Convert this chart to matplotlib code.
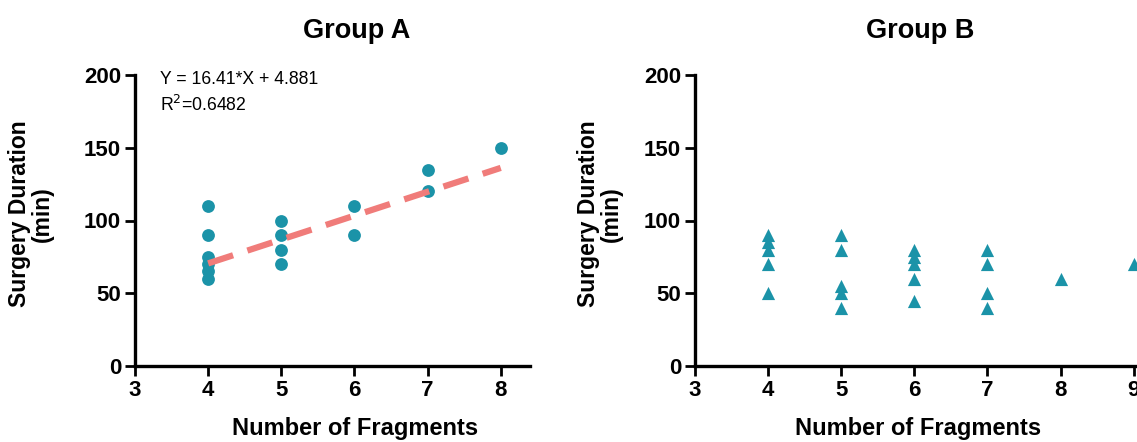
import numpy as np
import matplotlib
matplotlib.use("Agg")
import matplotlib.pyplot as plt

plt.rcParams['font.family'] = ['Liberation Sans', 'DejaVu Sans']

# Group A: fragments vs surgery duration
a_x = [4, 4, 4, 4, 4, 4, 5, 5, 5, 5, 6, 6, 7, 7, 8]
a_y = [110, 90, 75, 70, 65, 60, 100, 90, 80, 70, 110, 90, 135, 120, 150]
fit_slope = 16.41
fit_icept = 4.881
fit_r2 = 0.6482

# Group B
b_x = [4, 4, 4, 4, 4, 5, 5, 5, 5, 5, 6, 6, 6, 6, 6, 7, 7, 7, 7, 8, 9]
b_y = [90, 85, 80, 70, 50, 90, 80, 55, 50, 40, 80, 75, 70, 60, 45, 80, 70, 50, 40, 60, 70]

teal = '#1b93a8'
salmon = '#f07c7a'

fig = plt.figure(figsize=(11.37, 4.42), dpi=100)
W, H = 1137, 442

def style_axes(ax, xmax, xticks):
    ax.set_xlim(3, xmax)
    ax.set_ylim(0, 200)
    ax.set_xticks(xticks)
    ax.set_yticks([0, 50, 100, 150, 200])
    for s in ['top', 'right']:
        ax.spines[s].set_visible(False)
    for s in ['left', 'bottom']:
        ax.spines[s].set_linewidth(2.4)
    ax.tick_params(width=2, length=7, labelsize=16, pad=3)
    for lab in ax.get_xticklabels() + ax.get_yticklabels():
        lab.set_fontweight('bold')

# left panel
ax1 = fig.add_axes([135 / W, 1 - 366 / H, 395 / W, 291 / H])
ax1.scatter(a_x, a_y, s=85, color=teal, zorder=3, clip_on=False, linewidths=0)
xf = np.array([min(a_x), max(a_x)])
ax1.plot(xf, fit_slope * xf + fit_icept, color=salmon, lw=4.5, dashes=(4.2, 2.4),
         zorder=4)
style_axes(ax1, 8.4, [3, 4, 5, 6, 7, 8])
ax1.text(160 / W, 1 - 80 / H, 'Y = 16.41*X + 4.881', transform=fig.transFigure,
         fontsize=12.7, va='center', ha='left')
ax1.text(160 / W, 1 - 105 / H, 'R$^{2}$=' + str(fit_r2), transform=fig.transFigure,
         fontsize=12.7, va='center', ha='left')

# right panel (runs off the right edge like the original)
ax2 = fig.add_axes([695 / W, 1 - 366 / H, 468 / W, 291 / H])
ax2.scatter(b_x, b_y, s=90, marker='^', color=teal, zorder=3, clip_on=False, linewidths=0)
style_axes(ax2, 9.4, [3, 4, 5, 6, 7, 8, 9])

# titles and labels
for cx, title in [(357, 'Group A'), (920, 'Group B')]:
    fig.text(cx / W, 1 - 31 / H, title, fontsize=19.5, fontweight='bold', ha='center', va='center')
for cx in [355, 918]:
    fig.text(cx / W, 1 - 428 / H, 'Number of Fragments', fontsize=17, fontweight='bold',
             ha='center', va='center')
for cx in [31, 600]:
    fig.text(cx / W, 1 - 214 / H, 'Surgery Duration\n(min)', fontsize=16.5, fontweight='bold',
             ha='center', va='center', rotation=90, linespacing=1.0)

fig.savefig('out.png', dpi=100)
